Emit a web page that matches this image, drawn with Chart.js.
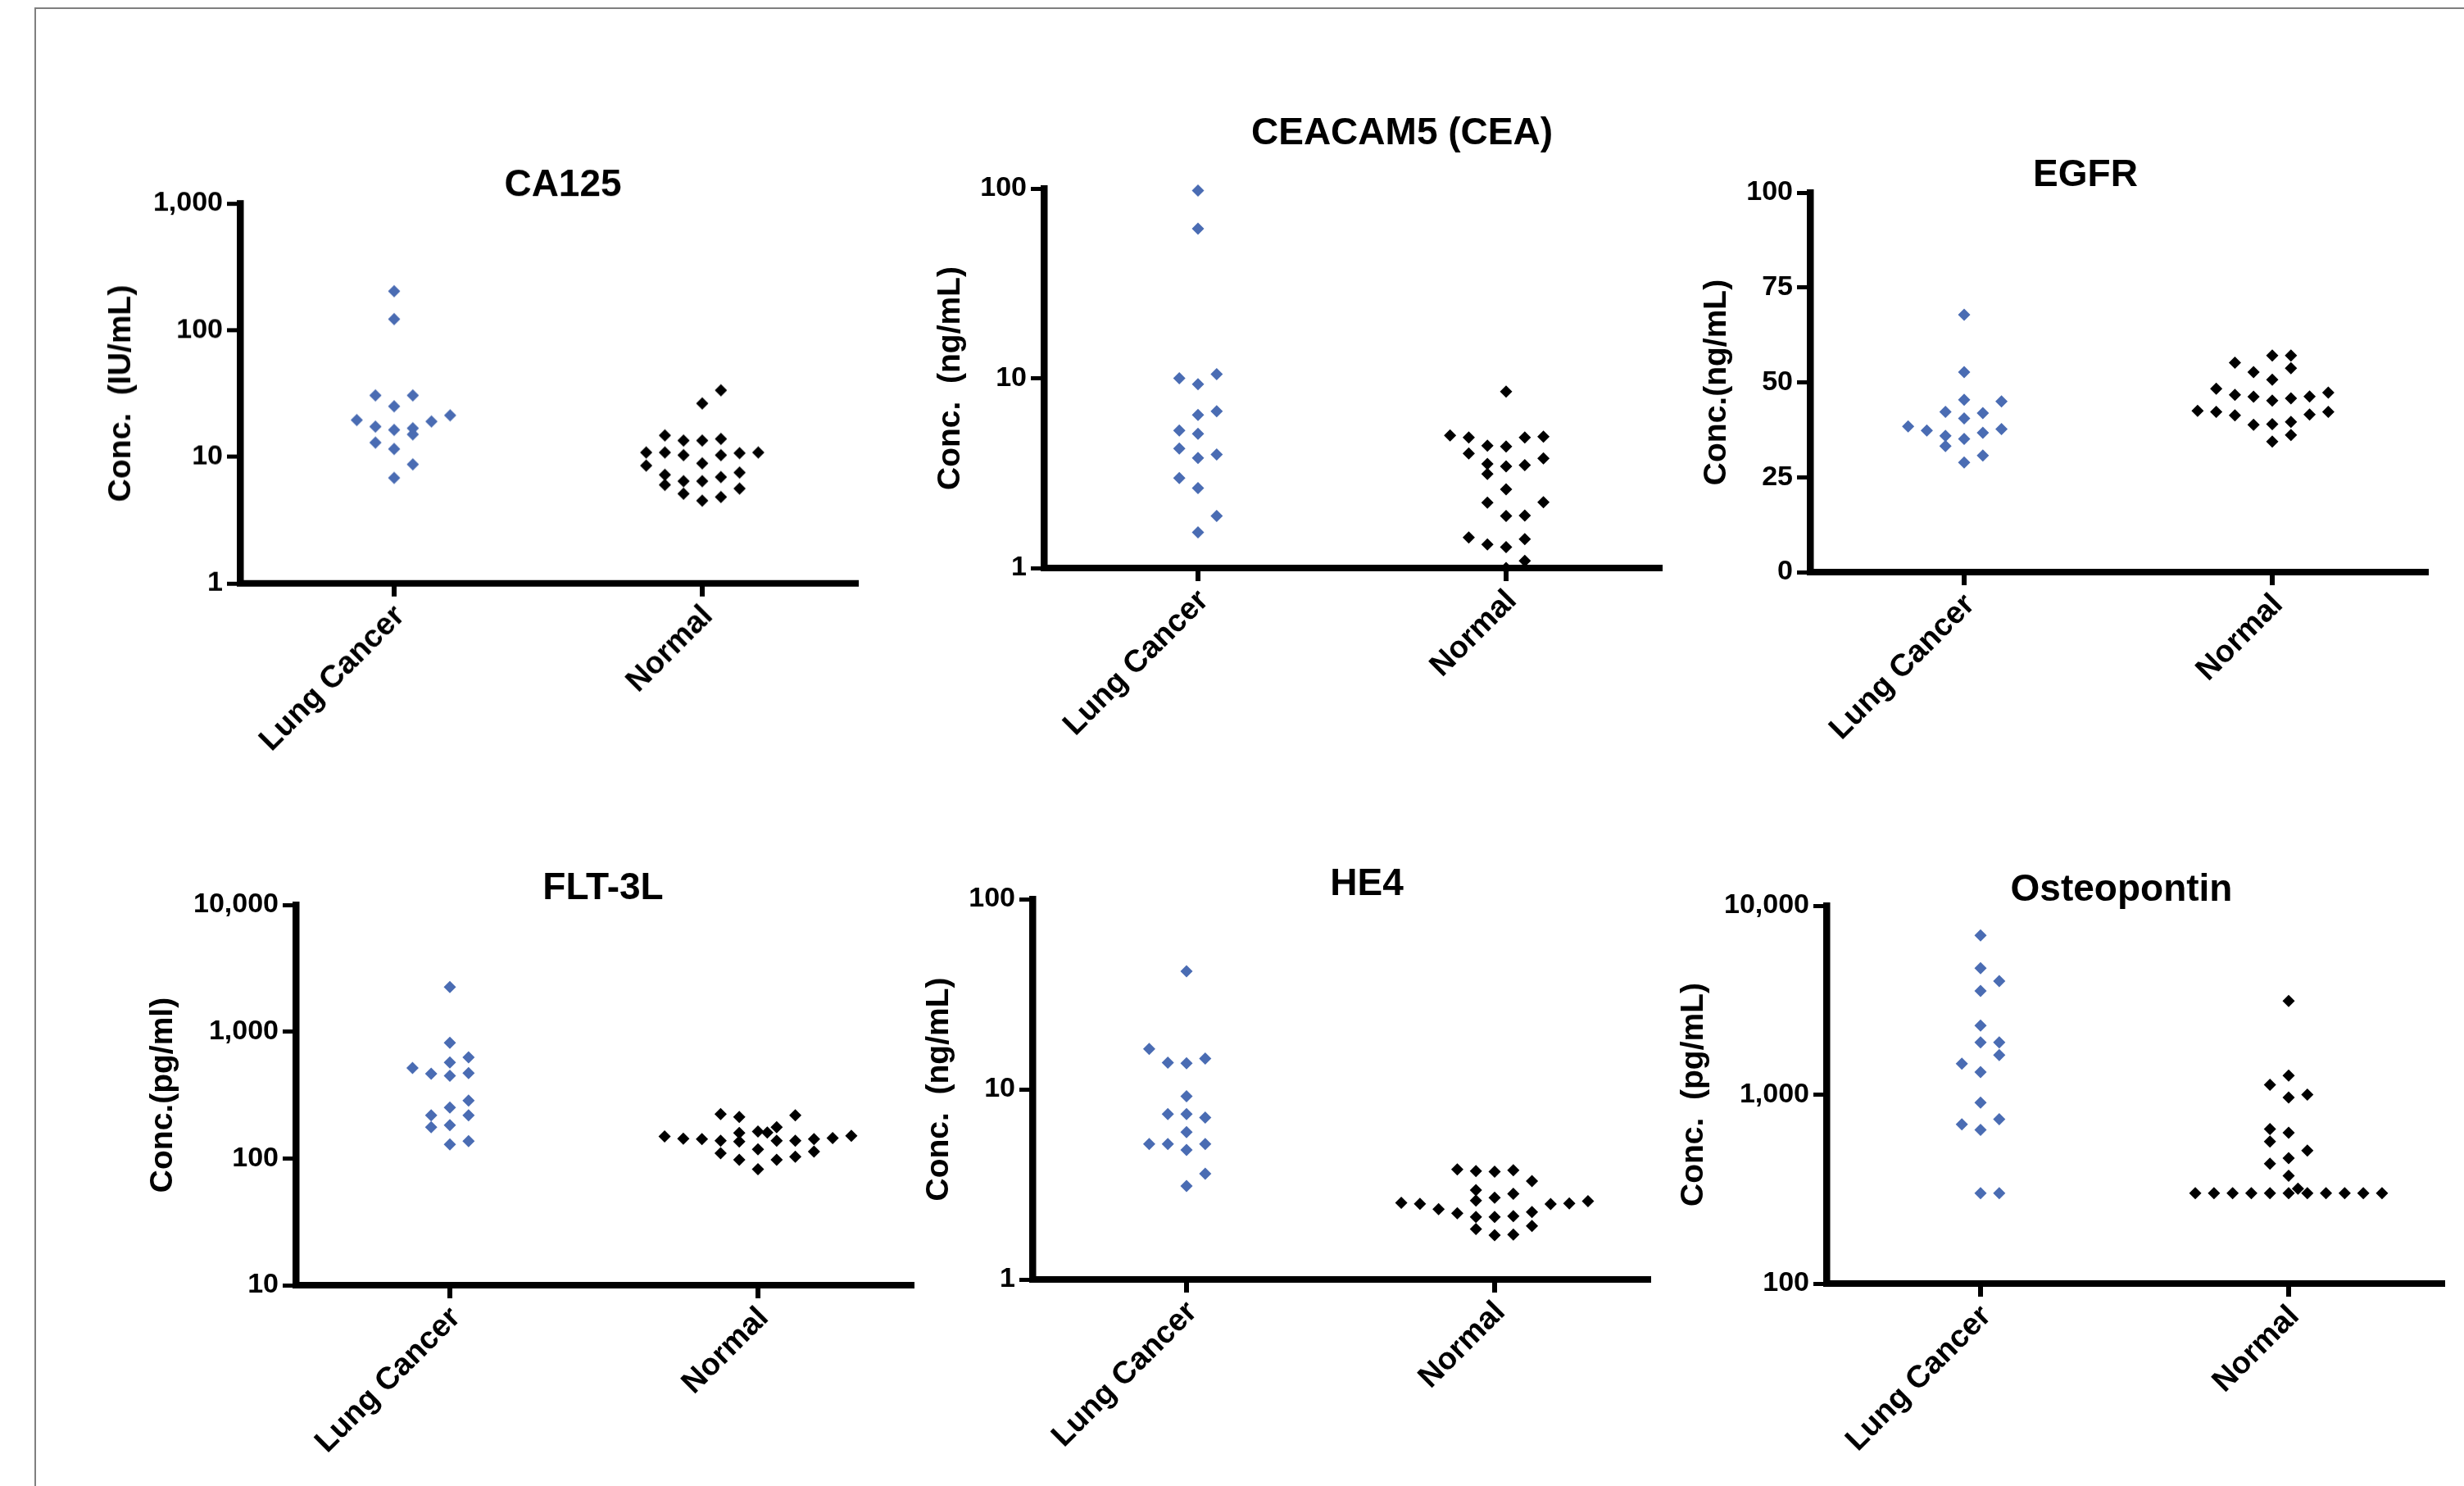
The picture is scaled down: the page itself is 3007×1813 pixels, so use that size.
<!DOCTYPE html>
<html>
<head>
<meta charset="utf-8">
<script src="https://cdn.jsdelivr.net/npm/chart.js@4.4.1/dist/chart.umd.min.js"></script>
<style>
  html, body { margin: 0; padding: 0; background: #ffffff; }
  body { width: 3007px; height: 1813px; position: relative; overflow: hidden; }
  #frameTop { position: absolute; left: 42px; top: 9px; width: 2965px; height: 2px; background: #7f7f7f; }
  #frameLeft { position: absolute; left: 42px; top: 9px; width: 2px; height: 1804px; background: #7f7f7f; }
  canvas { position: absolute; }
</style>
</head>
<body>
<div id="frameTop"></div>
<div id="frameLeft"></div>
<canvas id="c1"></canvas>
<canvas id="c2"></canvas>
<canvas id="c3"></canvas>
<canvas id="c4"></canvas>
<canvas id="c5"></canvas>
<canvas id="c6"></canvas>
<script>
// ---------------- DATA ----------------
const categories = ['Lung Cancer', 'Normal'];

// CA125 (IU/mL)
const ca125Lung      = [203, 122, 30.5, 30.5, 25, 19.5, 21.2, 19, 17.3, 16.3, 16.8, 15, 12.9, 11.5, 8.7, 6.8];
const ca125LungCol   = [0, 0, -1, 1, 0, -2, 3, 2, -1, 0, 1, 1, -1, 0, 1, 0];
const ca125Normal    = [33.4, 26.3, 14.7, 13.4, 13.4, 13.8, 10.8, 10.8, 10.3, 10.3, 10.7, 10.8, 8.85, 8.5, 7.2, 7.5, 6.9, 6.4, 6.4, 6.0, 5.6, 5.1, 4.8, 4.5];
const ca125NormalCol = [1, 0, -2, -1, 0, 1, -3, -2, -1, 1, 2, 3, 0, -3, -2, 2, 1, -1, 0, -2, 2, -1, 1, 0];
const ca125Ticks      = [1, 10, 100, 1000];
const ca125TickLabels = ['1', '10', '100', '1,000'];

// CEACAM5 (CEA) (ng/mL)
const ceaLung      = [97.5, 61.5, 10.0, 10.5, 9.3, 6.7, 6.4, 5.3, 5.1, 4.26, 3.97, 3.8, 2.98, 2.64, 1.88, 1.54];
const ceaLungCol   = [0, 0, -1, 1, 0, 1, 0, -1, 0, -1, 1, 0, -1, 0, 1, 0];
const ceaNormal    = [8.5, 5.0, 4.88, 4.41, 4.37, 4.88, 4.92, 4.01, 3.78, 3.54, 3.43, 3.48, 3.13, 2.6, 2.21, 2.22, 1.88, 1.89, 1.45, 1.33, 1.29, 1.42, 1.09, 1.0];
const ceaNormalCol = [0, -3, -2, -1, 0, 1, 2, -2, 2, -1, 0, 1, -1, 0, -1, 2, 0, 1, -2, -1, 0, 1, 1, 0];
const ceaTicks      = [1, 10, 100];
const ceaTickLabels = ['1', '10', '100'];

// EGFR (ng/mL)
const egfrLung      = [67.8, 52.7, 45.4, 45.0, 42.2, 41.9, 40.5, 38.4, 37.7, 37.3, 36.7, 35.9, 35.1, 33.2, 30.7, 28.9];
const egfrLungCol   = [0, 0, 0, 2, -1, 1, 0, -3, 2, -2, 1, -1, 0, -1, 1, 0];
const egfrNormal    = [57.1, 57.1, 55.2, 53.7, 52.7, 50.7, 48.3, 47.3, 46.7, 46.2, 46.3, 45.8, 45.2, 42.5, 42.2, 42.2, 41.3, 41.5, 39.6, 38.8, 39.0, 36.1, 34.4];
const egfrNormalCol = [0, 1, -2, 1, -1, 0, -3, 3, -2, -1, 2, 1, 0, -4, -3, 3, -2, 2, 1, -1, 0, 1, 0];
const egfrTicks      = [0, 25, 50, 75, 100];
const egfrTickLabels = ['0', '25', '50', '75', '100'];

// FLT-3L (pg/ml)
const fltLung      = [2249, 818, 627, 571, 516, 471, 466, 449, 286, 252, 219, 219, 183, 176, 137, 129];
const fltLungCol   = [0, 0, 1, 0, -2, 1, -1, 0, 1, 0, -1, 1, 0, -1, 1, 0];
const fltNormal    = [224, 212, 219, 176, 163, 160, 159, 149, 143, 142, 138, 136, 138, 138, 142, 145, 151, 118, 110, 113, 97.5, 97.5, 103, 82.3];
const fltNormalCol = [-2, -1, 2, 1, 0, 0.5, -1, -5, -4, -3, -2, -1, 1, 2, 3, 4, 5, 0, -2, 3, -1, 1, 2, 0];
const fltTicks      = [10, 100, 1000, 10000];
const fltTickLabels = ['10', '100', '1,000', '10,000'];

// HE4 (ng/mL)
const he4Lung      = [41.8, 16.3, 14.5, 13.8, 13.7, 9.2, 7.4, 7.4, 7.1, 5.95, 5.15, 5.15, 5.15, 4.8, 3.6, 3.1];
const he4LungCol   = [0, -2, 1, -1, 0, 0, -1, 0, 1, 0, -2, -1, 1, 0, 1, 0];
const he4Normal    = [3.79, 3.72, 3.69, 3.75, 3.29, 2.95, 2.82, 2.69, 2.6, 2.53, 2.5, 2.58, 2.51, 2.49, 2.34, 2.23, 2.26, 2.13, 2.13, 2.15, 1.91, 1.84, 1.72, 1.71];
const he4NormalCol = [-2, -1, 0, 1, 2, -1, 1, 0, -1, -5, -4, 5, 4, 3, -3, -2, 2, -1, 0, 1, 2, -1, 1, 0];
const he4Ticks      = [1, 10, 100];
const he4TickLabels = ['1', '10', '100'];

// Osteopontin (pg/mL)
const opnLung      = [6966, 4667, 3993, 3540, 2321, 1890, 1890, 1618, 1459, 1316, 908, 741, 697, 651, 301, 301];
const opnLungCol   = [0, 0, 1, 0, 0, 0, 1, 1, -1, 0, 0, 1, -1, 0, 0, 1];
const opnNormal    = [3133, 1263, 1128, 1000, 966, 658, 629, 564, 506, 461, 431, 372, 318, 301, 301, 301, 301, 301, 301, 301, 301, 301, 301, 301];
const opnNormalCol = [0, 0, -1, 1, 0, -1, 0, -1, 1, 0, -1, 0, 0.5, -5, -4, -3, -2, -1, 0, 1, 2, 3, 4, 5];
const opnTicks      = [100, 1000, 10000];
const opnTickLabels = ['100', '1,000', '10,000'];

// ---------------- STYLE ----------------
const BLUE = '#4a6cb3';
const BLACK = '#000000';
const COL_STEP = 0.0606;          // swarm column spacing, in category units
const FONT = '"Liberation Sans", Arial, Helvetica, sans-serif';
const LEFT_ROOM = 230, TOP_ROOM = 130, RIGHT_ROOM = 20, BOTTOM_ROOM = 260, PLOT_W = 752;
const CAT_DX = 7, CAT_DY = 34;    // right-end centre of rotated category label, relative to tick / axis

const panels = [
  { id: 'c1', title: 'CA125', yTitle: 'Conc.  (IU/mL)', type: 'logarithmic', min: 1, max: 1000,
    ticks: ca125Ticks, labels: ca125TickLabels, lung: ca125Lung, lungCol: ca125LungCol, normal: ca125Normal, normalCol: ca125NormalCol,
    axisX: 293, top: 248, bottom: 711.5, titleDx: 18, titleDy: -22, yTitleDx: -145 },
  { id: 'c2', title: 'CEACAM5 (CEA)', yTitle: 'Conc.  (ng/mL)', type: 'logarithmic', min: 1, max: 100,
    ticks: ceaTicks, labels: ceaTickLabels, lung: ceaLung, lungCol: ceaLungCol, normal: ceaNormal, normalCol: ceaNormalCol,
    axisX: 1274, top: 230, bottom: 693, titleDx: 61, titleDy: -67, yTitleDx: -114 },
  { id: 'c3', title: 'EGFR', yTitle: 'Conc.(ng/mL)', type: 'linear', min: 0, max: 100,
    ticks: egfrTicks, labels: egfrTickLabels, lung: egfrLung, lungCol: egfrLungCol, normal: egfrNormal, normalCol: egfrNormalCol,
    axisX: 2209, top: 235, bottom: 698, titleDx: -40, titleDy: -21, yTitleDx: -114 },
  { id: 'c4', title: 'FLT-3L', yTitle: 'Conc.(pg/ml)', type: 'logarithmic', min: 10, max: 10000,
    ticks: fltTicks, labels: fltTickLabels, lung: fltLung, lungCol: fltLungCol, normal: fltNormal, normalCol: fltNormalCol,
    axisX: 361, top: 1104, bottom: 1568, titleDx: -1, titleDy: -20, yTitleDx: -162 },
  { id: 'c5', title: 'HE4', yTitle: 'Conc.  (ng/mL)', type: 'logarithmic', min: 1, max: 100,
    ticks: he4Ticks, labels: he4TickLabels, lung: he4Lung, lungCol: he4LungCol, normal: he4Normal, normalCol: he4NormalCol,
    axisX: 1260, top: 1097, bottom: 1561, titleDx: 32, titleDy: -18, yTitleDx: -114 },
  { id: 'c6', title: 'Osteopontin', yTitle: 'Conc.  (pg/mL)', type: 'logarithmic', min: 100, max: 10000,
    ticks: opnTicks, labels: opnTickLabels, lung: opnLung, lungCol: opnLungCol, normal: opnNormal, normalCol: opnNormalCol,
    axisX: 2229, top: 1105, bottom: 1566, titleDx: -16, titleDy: -19, yTitleDx: -162 }
];

const panelText = {
  id: 'panelText',
  afterDraw(chart, args, o) {
    const { ctx, chartArea, scales } = chart;
    ctx.save();
    ctx.fillStyle = '#000';
    ctx.textAlign = 'center';
    ctx.textBaseline = 'middle';
    ctx.font = 'bold 46px ' + FONT;
    const p1 = scales.x.getPixelForValue(1), p2 = scales.x.getPixelForValue(2);
    ctx.fillText(o.title, (p1 + p2) / 2 + o.titleDx, chartArea.top + o.titleDy);

    // rotated category labels
    ctx.font = 'bold 38px ' + FONT;
    ctx.textAlign = 'right';
    [p1, p2].forEach((px, i) => {
      ctx.save();
      ctx.translate(px + CAT_DX, chartArea.bottom + CAT_DY);
      ctx.rotate(-Math.PI / 4);
      ctx.fillText(categories[i], 0, 0);
      ctx.restore();
    });

    // y-axis title
    ctx.textAlign = 'center';
    ctx.translate(chartArea.left + o.yTitleDx, (chartArea.top + chartArea.bottom) / 2);
    ctx.rotate(-Math.PI / 2);
    ctx.font = 'bold 39px ' + FONT;
    ctx.fillText(o.yTitle, 0, 0);
    ctx.restore();
  }
};

function makePoints(values, cols, catIndex) {
  return values.map((v, i) => ({ x: catIndex + cols[i] * COL_STEP, y: v }));
}

panels.forEach(p => {
  const plotH = p.bottom - p.top;
  const canvas = document.getElementById(p.id);
  const W = LEFT_ROOM + PLOT_W + RIGHT_ROOM;
  const H = TOP_ROOM + plotH + BOTTOM_ROOM;
  canvas.width = W; canvas.height = H;
  canvas.style.width = W + 'px'; canvas.style.height = H + 'px';
  canvas.style.left = (p.axisX - LEFT_ROOM) + 'px';
  canvas.style.top = (p.top - TOP_ROOM) + 'px';

  new Chart(canvas, {
    type: 'scatter',
    data: {
      datasets: [
        { label: categories[0], data: makePoints(p.lung, p.lungCol, 1), backgroundColor: BLUE, borderWidth: 0,
          pointStyle: 'rectRot', pointRadius: 7.5, pointHoverRadius: 7.5, clip: false },
        { label: categories[1], data: makePoints(p.normal, p.normalCol, 2), backgroundColor: BLACK, borderWidth: 0,
          pointStyle: 'rectRot', pointRadius: 7.5, pointHoverRadius: 7.5, clip: false }
      ]
    },
    plugins: [panelText],
    options: {
      responsive: false,
      animation: false,
      devicePixelRatio: 1,
      events: [],
      layout: { padding: { left: 0, top: TOP_ROOM, right: RIGHT_ROOM, bottom: 0 } },
      plugins: {
        legend: { display: false },
        tooltip: { enabled: false },
        title: { display: false },
        panelText: { title: p.title, yTitle: p.yTitle, titleDx: p.titleDx, titleDy: p.titleDy, yTitleDx: p.yTitleDx }
      },
      scales: {
        x: {
          type: 'linear', min: 0.5, max: 2.5, z: 1,
          afterBuildTicks: s => { s.ticks = [{ value: 1 }, { value: 2 }]; },
          afterFit: s => { s.height = BOTTOM_ROOM; },
          ticks: { display: false, autoSkip: false, callback: (v, i) => categories[i] },
          grid: { drawOnChartArea: false, drawTicks: true, tickLength: 16, tickWidth: 6, tickColor: '#000', lineWidth: 6, color: '#000' },
          border: { display: true, color: '#000', width: 8 }
        },
        y: {
          type: p.type, min: p.min, max: p.max, z: 1,
          afterBuildTicks: s => { s.ticks = p.ticks.map(v => ({ value: v })); },
          afterFit: s => { s.width = LEFT_ROOM; },
          ticks: {
            padding: 5, color: '#000', font: { family: FONT, size: 34, weight: 'bold' },
            callback: (v, i) => p.labels[i]
          },
          grid: { drawOnChartArea: false, drawTicks: true, tickLength: 16, tickWidth: 5, tickColor: '#000', lineWidth: 5, color: '#000' },
          border: { display: true, color: '#000', width: 8.5 }
        }
      }
    }
  });
});
</script>
</body>
</html>
